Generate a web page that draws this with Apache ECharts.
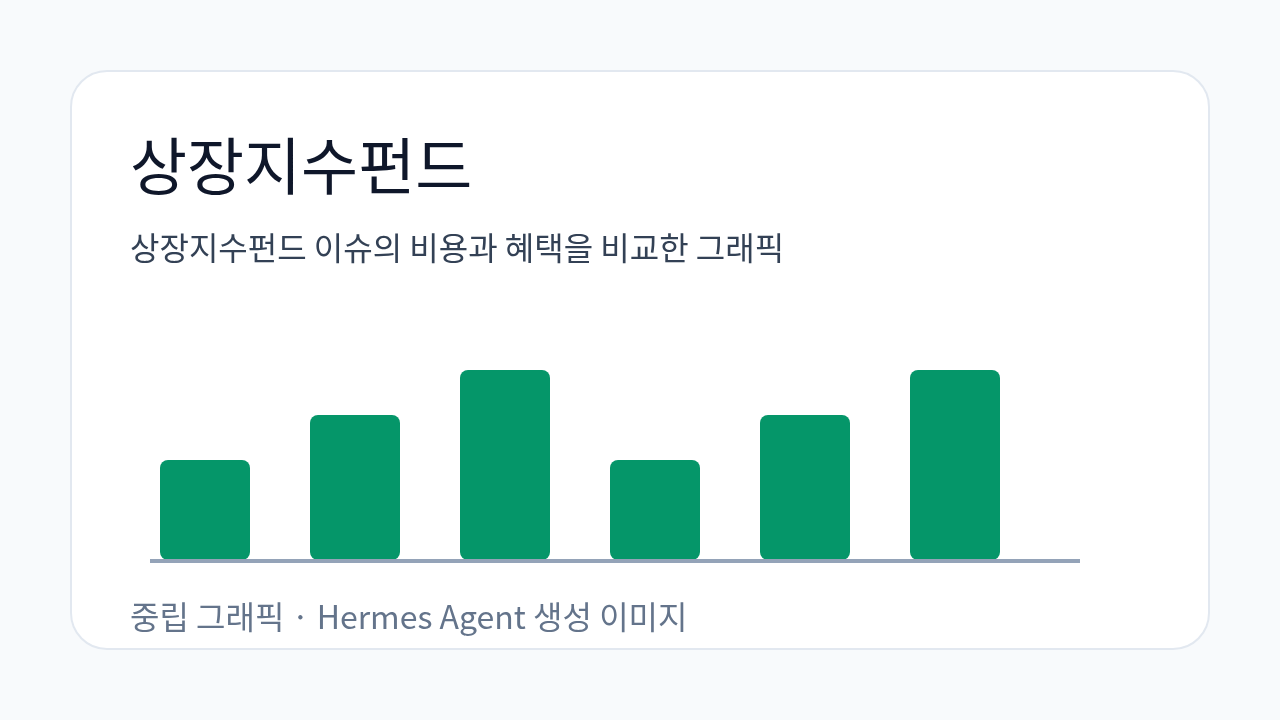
<!DOCTYPE html>
<html>
<head>
<meta charset="utf-8">
<title>상장지수펀드</title>
<script src="https://cdn.jsdelivr.net/npm/echarts@6/dist/echarts.min.js"></script>
<style>
  html, body { margin: 0; padding: 0; background: #f8fafc; }
  #chart { width: 1280px; height: 720px; }
</style>
</head>
<body>
<div id="chart"></div>
<script>
// 데이터
var categories = ['A', 'B', 'C', 'D', 'E', 'F'];
var values = [100, 145, 190, 100, 145, 190];
var titleText = '상장지수펀드';
var subtitleText = '상장지수펀드 이슈의 비용과 혜택을 비교한 그래픽';
var footerText = '중립 그래픽 · Hermes Agent 생성 이미지';

var FONT = '"Noto Sans CJK KR", "Noto Sans", sans-serif';

var myChart = echarts.init(document.getElementById('chart'));

var option = {
  backgroundColor: '#f8fafc',
  animation: false,
  grid: {
    left: 130,
    width: 900,
    top: 360,
    bottom: 160
  },
  xAxis: {
    type: 'category',
    data: categories,
    axisLine: { show: false },
    axisTick: { show: false },
    axisLabel: { show: false },
    splitLine: { show: false }
  },
  yAxis: {
    type: 'value',
    min: 0,
    max: 200,
    show: false
  },
  graphic: [
    {
      type: 'rect',
      z: -10,
      shape: { x: 71, y: 71, width: 1138, height: 578, r: 36 },
      style: { fill: '#ffffff', stroke: '#e2e8f0', lineWidth: 2 }
    },
    {
      type: 'text',
      z: 10,
      x: 130, y: 166,
      style: {
        text: titleText,
        fontFamily: FONT,
        fontSize: 62,
        fill: '#0f172a',
        verticalAlign: 'middle'
      }
    },
    {
      type: 'text',
      z: 10,
      x: 130, y: 248,
      style: {
        text: subtitleText,
        fontFamily: FONT,
        fontSize: 32,
        fill: '#334155',
        verticalAlign: 'middle'
      }
    },
    {
      type: 'text',
      z: 10,
      x: 130, y: 617,
      style: {
        text: footerText,
        fontFamily: FONT,
        fontSize: 32,
        fill: '#64748b',
        verticalAlign: 'middle'
      }
    },
    // 기준선
    {
      type: 'line',
      z: 10,
      shape: { x1: 150, y1: 561, x2: 1080, y2: 561 },
      style: { stroke: '#94a3b8', lineWidth: 4 }
    }
  ],
  series: [
    {
      type: 'bar',
      data: values,
      barWidth: 90,
      itemStyle: { color: '#059669', borderRadius: 8 },
      silent: true
    }
  ]
};

myChart.setOption(option);
</script>
</body>
</html>
